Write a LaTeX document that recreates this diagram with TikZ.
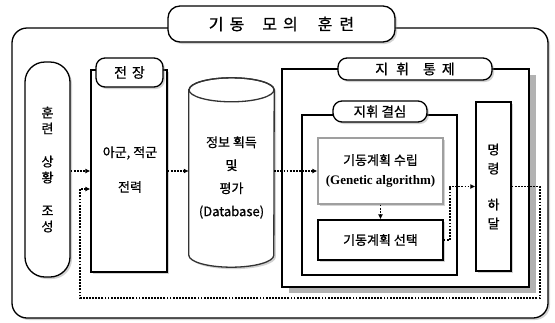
\documentclass[tikz,border=0pt]{standalone}
\usepackage{fontspec}
\newfontfamily\kr[FakeBold=0.8,AutoFakeBold=0.8]{Noto Sans CJK KR}
\newfontfamily\tms{Liberation Serif}
\usetikzlibrary{arrows.meta,shadows}

\begin{document}
\begin{tikzpicture}[x=1pt,y=-1pt,
  box/.style={draw,line width=1.3pt,fill=white,inner sep=0pt},
  soft/.style={drop shadow={shadow xshift=2pt,shadow yshift=-2pt,opacity=.35}},
  tag/.style={box,rounded corners=9pt,soft},
  txt/.style={font=\kr\fontsize{13}{16}\selectfont,align=center},
  flow/.style={line width=1.8pt,dash pattern=on 1.8pt off 1.3pt,-{Latex[length=5pt,width=5pt]}}]
\useasboundingbox (0,0) rectangle (555,322);
\node[box,rounded corners=15pt,soft,minimum width=536pt,minimum height=290pt] (frame) at (280,173) {};
\node[box,rounded corners=12pt,soft,minimum width=227pt,minimum height=36pt,font=\kr\fontsize{16}{18}\selectfont] (title) at (281.5,24) {기\hspace{6pt}동\hspace{18pt}모\hspace{6pt}의\hspace{20pt}훈\hspace{7pt}련};
\node[box,rounded corners=20pt,soft,minimum width=45pt,minimum height=215pt,txt] (sit) at (47.5,169.5) {훈\\련\\[17pt]상\\황\\[17pt]조\\성};
\node[box,soft,minimum width=76pt,minimum height=202pt] (field) at (129,171) {};
\node[tag,minimum width=67pt,minimum height=29pt,font=\kr\fontsize{14}{16}\selectfont] (fieldtag) at (129.5,72.5) {전\hspace{5pt}장};
\node[txt] (force) at (130,153) {아군, 적군};
\node[txt] (power) at (130,187) {전력};
\path (231.5,172.5) node[minimum width=85pt,minimum height=189pt,inner sep=0pt] (db) {};
\draw[line width=1.3pt,draw=black!80,fill=white,soft] ([yshift=-12pt]db.north west) -- ([yshift=12pt]db.south west) arc[start angle=180,end angle=360,x radius=42.5pt,y radius=12pt] -- ([yshift=-12pt]db.north east) arc[start angle=0,end angle=180,x radius=42.5pt,y radius=12pt] -- cycle;
\draw[line width=1.3pt,draw=black!80] ([yshift=-12pt]db.north) ellipse[x radius=42.5pt,y radius=12pt];
\node[txt,font=\kr\fontsize{13}{23}\selectfont] (dbtxt) at (231.5,177.5) {정보 획득\\및\\평가\\(Database)};
\node[box,minimum width=247pt,minimum height=218pt,drop shadow={shadow xshift=7pt,shadow yshift=-6pt,fill=gray!60,opacity=1}] (cc) at (405.5,178) {};
\node[tag,minimum width=154pt,minimum height=22pt,font=\kr\fontsize{14}{16}\selectfont] (cctag) at (415,69) {지\hspace{8pt}휘\hspace{14pt}통\hspace{6pt}제};
\node[box,minimum width=155pt,minimum height=160pt] (dec) at (379.5,195) {};
\node[tag,minimum width=94pt,minimum height=21pt,font=\kr\fontsize{13.5}{16}\selectfont] (dectag) at (380,111.5) {지휘 결심};
\node[box,draw=gray!75,soft,minimum width=125pt,minimum height=66pt,txt] (plan) at (380.5,171) {기동계획 수립\\[4pt]{\tms\bfseries\fontsize{13}{16}\selectfont(Genetic algorithm)}};
\node[box,soft,minimum width=125pt,minimum height=40pt,txt] (sel) at (380.5,240) {기동계획 선택};
\node[box,soft,minimum width=35pt,minimum height=169pt,txt,font=\kr\fontsize{13}{19}\selectfont] (cmd) at (493.5,186.5) {명\\령\\[17pt]하\\달};
\draw[flow] (sit.east |- 0,171) -- (field.west |- 0,171);
\draw[flow] (field.east |- 0,171) -- (db.west |- 0,171);
\draw[flow] (db.east |- 0,171) -- (plan.west);
\draw[flow] (plan.south) -- (sel.north);
\draw[flow] (sel.east) -- ++(6,0) |- (cmd.west);
\draw[flow] (cmd.east) -- (540,186.5) -- (540,298) -- (80,298) -- (80,189) -- (field.west |- 0,189);
\end{tikzpicture}
\end{document}
